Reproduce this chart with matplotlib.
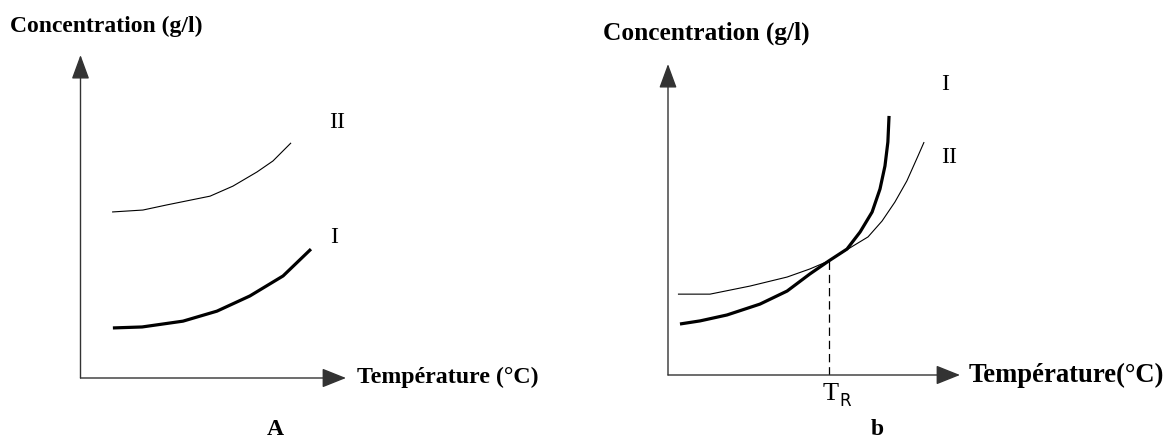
import matplotlib
matplotlib.use("Agg")
import matplotlib.pyplot as plt

plt.rcParams['lines.scale_dashes'] = False

W, H = 1167, 439

# ---------------- data (arbitrary units: axis span 0..10) ----------------
# Panel A
a_I_temp = [1.22, 2.32, 3.86, 5.14, 6.38, 7.63, 8.68]
a_I_conc = [1.55, 1.58, 1.76, 2.07, 2.54, 3.16, 3.99]
a_II_temp = [1.19, 2.35, 3.26, 4.88, 5.74, 6.65, 7.25, 7.93]
a_II_conc = [5.14, 5.20, 5.36, 5.63, 5.94, 6.38, 6.72, 7.28]

# Panel b
b_I_temp = [0.41, 1.10, 2.02, 3.15, 4.08, 4.86, 5.51, 6.13, 6.58, 6.99, 7.26, 7.43, 7.53, 7.57]
b_I_conc = [1.64, 1.74, 1.93, 2.28, 2.70, 3.25, 3.67, 4.05, 4.60, 5.24, 5.98, 6.72, 7.49, 8.33]
b_II_temp = [0.34, 1.44, 2.81, 4.08, 4.86, 5.51, 6.34, 6.85, 7.33, 7.77, 8.18, 8.56, 8.77]
b_II_conc = [2.60, 2.60, 2.86, 3.15, 3.41, 3.67, 4.15, 4.44, 4.95, 5.56, 6.24, 7.04, 7.49]

T_R = 5.51
C_R = 3.67

y_label = "Concentration (g/l)"
x_label = "Température (°C)"
x_label_b = "Température(°C)"
serif = ["Liberation Serif", "DejaVu Serif"]

fig = plt.figure(figsize=(W / 100, H / 100), dpi=100)
fig.patch.set_facecolor("white")


def px_axes(left, right, bottom, top):
    return fig.add_axes([left / W, 1 - bottom / H, (right - left) / W, (bottom - top) / H])


def setup(ax):
    ax.set_xlim(0, 10)
    ax.set_ylim(0, 10)
    for s in ax.spines.values():
        s.set_visible(False)
    ax.set_xticks([])
    ax.set_yticks([])
    ax.patch.set_alpha(0)
    axc = "#333333"
    ax.annotate("", xy=(1, 0), xytext=(0, 0), xycoords="axes fraction",
                arrowprops=dict(arrowstyle="-|>,head_length=1.5,head_width=0.6",
                                color=axc, lw=1.0, shrinkA=0, shrinkB=0,
                                mutation_scale=10))
    ax.annotate("", xy=(0, 1), xytext=(0, 0), xycoords="axes fraction",
                arrowprops=dict(arrowstyle="-|>,head_length=1.5,head_width=0.55",
                                color=axc, lw=1.0, shrinkA=0, shrinkB=0,
                                mutation_scale=10))


def ftext(x, y, s, **kw):
    fig.text(x / W, 1 - y / H, s, **kw)


line_kw = dict(color="black", solid_capstyle="butt", solid_joinstyle="round")

# ---------------- Panel A ----------------
axA = px_axes(80.5, 346, 379, 56)
setup(axA)
axA.plot(a_II_temp, a_II_conc, lw=0.8, **line_kw)
axA.plot(a_I_temp, a_I_conc, lw=2.3, **line_kw)
axA.text(9.67, 7.93, "II", fontsize=17, family=serif, ha="center", va="center")
axA.text(9.55, 4.37, "I", fontsize=17, family=serif, ha="center", va="center")

ftext(10, 26, y_label, fontsize=17, fontweight="bold", family=serif, ha="left", va="center")
ftext(357, 377, x_label, fontsize=17.2, fontweight="bold", family=serif, ha="left", va="center")
ftext(275, 430, "A", fontsize=17, fontweight="bold", family=serif, ha="center", va="center")

# ---------------- Panel b ----------------
axB = px_axes(668, 960, 376, 65)
setup(axB)
axB.plot([T_R, T_R], [0, C_R], color="black", lw=0.9, linestyle=(0, (6, 3.5)))
axB.plot(b_II_temp, b_II_conc, lw=0.8, **line_kw)
axB.plot(b_I_temp, b_I_conc, lw=2.3, **line_kw)
axB.text(9.49, 9.36, "I", fontsize=17, family=serif, ha="center", va="center")
axB.text(9.62, 7.01, "II", fontsize=17, family=serif, ha="center", va="center")

ftext(603, 33, y_label, fontsize=18.3, fontweight="bold", family=serif, ha="left", va="center")
ftext(969, 375, x_label_b, fontsize=19.2, fontweight="bold", family=serif, ha="left", va="center")
ftext(877, 430, "b", fontsize=17, fontweight="bold", family=serif, ha="center", va="center")
ftext(831, 400, "T", fontsize=19, family=serif, ha="center", va="baseline")
ftext(839, 406, "R", fontsize=12, family=["DejaVu Sans"], ha="left", va="baseline")

fig.savefig("out.png", dpi=100, facecolor="white")
